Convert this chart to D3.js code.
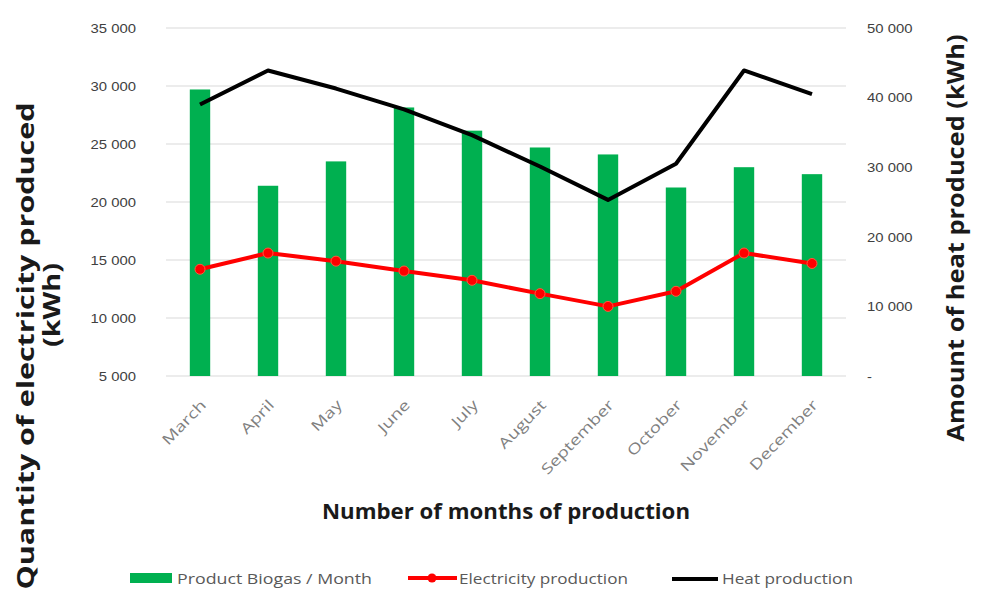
<!DOCTYPE html>
<html>
<head>
<meta charset="utf-8">
<script src="https://cdn.jsdelivr.net/npm/d3@7"></script>
<style>
  body { margin: 0; background: #fff; }
  svg { font-family: "Open Sans", Lato, sans-serif; }
</style>
</head>
<body>
<div id="chart"></div>
<script>
// data
const months = ["March", "April", "May", "June", "July", "August", "September", "October", "November", "December"]
const biogas = [29700, 21400, 23500, 28150, 26150, 24700, 24100, 21250, 23000, 22400]
const electricity = [14200, 15600, 14900, 14050, 13250, 12100, 11000, 12300, 15600, 14700]
const heat = [39000, 43900, 41300, 38300, 34600, 30100, 25300, 30500, 43900, 40500]
const leftTicks = [5000, 10000, 15000, 20000, 25000, 30000, 35000]
const rightTicks = [0, 10000, 20000, 30000, 40000, 50000]

const width = 985, height = 615
const m = { left: 166, right: 846, top: 28, bottom: 376 }

const svg = d3.select("#chart").append("svg")
  .attr("width", width)
  .attr("height", height)

const loc = d3.formatLocale({ decimal: ".", thousands: " ", grouping: [3], currency: ["", ""] })
const fmt = loc.format(",")

// widen text a bit, the original is drawn with a stretched Calibri
const stretch = (sel, k) => sel.each(function () {
  const w = this.getComputedTextLength()
  d3.select(this).attr("textLength", w * k).attr("lengthAdjust", "spacingAndGlyphs")
})

const x = d3.scaleBand().domain(months).range([m.left, m.right]).padding(0)
const yL = d3.scaleLinear().domain([5000, 35000]).range([m.bottom, m.top])
const yR = d3.scaleLinear().domain([0, 50000]).range([m.bottom, m.top])
const cx = (d) => x(d) + x.bandwidth() / 2
const barW = x.bandwidth() * 0.3

// gridlines
svg.append("g")
  .selectAll("line")
  .data(leftTicks)
  .enter()
  .append("line")
  .attr("x1", m.left).attr("x2", m.right)
  .attr("y1", (d) => yL(d)).attr("y2", (d) => yL(d))
  .attr("stroke", "#d9d9d9")
  .attr("stroke-width", 1.2)

// left axis
const axL = svg.append("g")
  .attr("transform", "translate(" + (m.left - 30) + ",0)")
  .call(d3.axisLeft(yL).tickValues(leftTicks).tickFormat(fmt).tickSize(0).tickPadding(0))
axL.select(".domain").remove()
axL.selectAll("text").attr("font-size", 13.5).attr("fill", "#404040").call(stretch, 1.1)

// right axis
const axR = svg.append("g")
  .attr("transform", "translate(" + (m.right + 21) + ",0)")
  .call(d3.axisRight(yR).tickValues(rightTicks).tickFormat((d) => d === 0 ? "-" : fmt(d)).tickSize(0).tickPadding(0))
axR.select(".domain").remove()
axR.selectAll("text").attr("font-size", 13.5).attr("fill", "#404040").call(stretch, 1.1)

// bars
svg.append("g")
  .selectAll("rect")
  .data(biogas)
  .enter()
  .append("rect")
  .attr("x", (d, i) => cx(months[i]) - barW / 2)
  .attr("y", (d) => yL(d))
  .attr("width", barW)
  .attr("height", (d) => yL(5000) - yL(d))
  .attr("fill", "#00b050")

// heat line
const heatLine = d3.line().x((d, i) => cx(months[i])).y((d) => yR(d))
svg.append("path")
  .datum(heat)
  .attr("d", heatLine)
  .attr("fill", "none")
  .attr("stroke", "#000")
  .attr("stroke-width", 4)
  .attr("stroke-linejoin", "round")

// electricity line
const elecLine = d3.line().x((d, i) => cx(months[i])).y((d) => yL(d))
svg.append("path")
  .datum(electricity)
  .attr("d", elecLine)
  .attr("fill", "none")
  .attr("stroke", "#ff0000")
  .attr("stroke-width", 4)
  .attr("stroke-linejoin", "round")

svg.append("g")
  .selectAll("circle")
  .data(electricity)
  .enter()
  .append("circle")
  .attr("cx", (d, i) => cx(months[i]))
  .attr("cy", (d) => yL(d))
  .attr("r", 5)
  .attr("fill", "#ff0000")
  .attr("stroke", "#ff5a3c")
  .attr("stroke-width", 1)

// month labels
svg.append("g")
  .selectAll("text")
  .data(months)
  .enter()
  .append("text")
  .attr("transform", (d) => "translate(" + (cx(d) + 3) + "," + (m.bottom + 26) + ") rotate(-46)")
  .attr("text-anchor", "end")
  .attr("dominant-baseline", "central")
  .attr("font-size", 14.5)
  .attr("fill", "#7f7f7f")
  .text((d) => d)
  .call(stretch, 1.3)

// axis titles
svg.append("text")
  .attr("x", 506).attr("y", 519)
  .attr("text-anchor", "middle")
  .attr("font-size", 21)
  .attr("font-weight", "bold")
  .attr("fill", "#1a1a1a")
  .attr("textLength", 368)
  .attr("lengthAdjust", "spacingAndGlyphs")
  .text("Number of months of production")

svg.append("text")
  .attr("transform", "translate(25,346) rotate(-90)")
  .attr("text-anchor", "middle")
  .attr("dominant-baseline", "central")
  .attr("font-size", 23)
  .attr("font-weight", "bold")
  .attr("fill", "#1a1a1a")
  .attr("textLength", 487)
  .attr("lengthAdjust", "spacingAndGlyphs")
  .text("Quantity of electricity produced")

svg.append("text")
  .attr("transform", "translate(51,305) rotate(-90)")
  .attr("text-anchor", "middle")
  .attr("dominant-baseline", "central")
  .attr("font-size", 23)
  .attr("font-weight", "bold")
  .attr("fill", "#1a1a1a")
  .attr("textLength", 84)
  .attr("lengthAdjust", "spacingAndGlyphs")
  .text("(kWh)")

svg.append("text")
  .attr("transform", "translate(955,238) rotate(-90)")
  .attr("text-anchor", "middle")
  .attr("dominant-baseline", "central")
  .attr("font-size", 23)
  .attr("font-weight", "bold")
  .attr("fill", "#1a1a1a")
  .attr("textLength", 407)
  .attr("lengthAdjust", "spacingAndGlyphs")
  .text("Amount of heat produced (kWh)")

// legend
const leg = svg.append("g").attr("font-size", 15).attr("fill", "#595959")
leg.append("rect").attr("x", 130).attr("y", 573).attr("width", 42).attr("height", 10).attr("fill", "#00b050")
leg.append("text").attr("x", 177).attr("y", 578).attr("dominant-baseline", "central")
  .attr("textLength", 195).attr("lengthAdjust", "spacingAndGlyphs")
  .text("Product Biogas / Month")

leg.append("line").attr("x1", 408).attr("x2", 457).attr("y1", 578).attr("y2", 578)
  .attr("stroke", "#ff0000").attr("stroke-width", 4)
leg.append("circle").attr("cx", 432).attr("cy", 578).attr("r", 4.5).attr("fill", "#ff0000")
leg.append("text").attr("x", 459).attr("y", 578).attr("dominant-baseline", "central")
  .attr("textLength", 169).attr("lengthAdjust", "spacingAndGlyphs")
  .text("Electricity production")

leg.append("line").attr("x1", 672).attr("x2", 718).attr("y1", 579).attr("y2", 579)
  .attr("stroke", "#000").attr("stroke-width", 4)
leg.append("text").attr("x", 722).attr("y", 578).attr("dominant-baseline", "central")
  .attr("textLength", 131).attr("lengthAdjust", "spacingAndGlyphs")
  .text("Heat production")
</script>
</body>
</html>
